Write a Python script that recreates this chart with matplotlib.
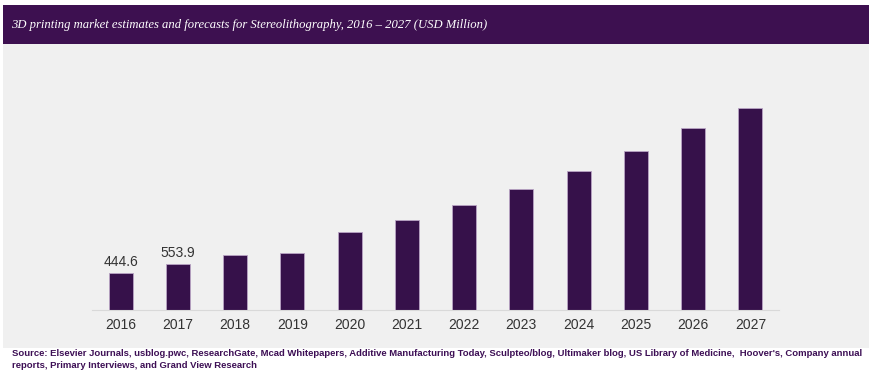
import matplotlib.pyplot as plt
from matplotlib.patches import Rectangle

years = ['2016', '2017', '2018', '2019', '2020', '2021',
         '2022', '2023', '2024', '2025', '2026', '2027']
revenue = [444.6, 553.9, 665, 690, 944, 1089, 1270, 1464, 1682, 1924, 2202, 2444]
shown_labels = {0: '444.6', 1: '553.9'}

title = '3D printing market estimates and forecasts for Stereolithography, 2016 \u2013 2027 (USD Million)'
source = ("Source: Elsevier Journals, usblog.pwc, ResearchGate, Mcad Whitepapers, Additive Manufacturing Today, "
          "Sculpteo/blog, Ultimaker blog, US Library of Medicine,  Hoover's, Company annual\n"
          "reports, Primary Interviews, and Grand View Research")

W, H = 878, 375
fig = plt.figure(figsize=(W / 100, H / 100), dpi=100)
fig.patch.set_facecolor('white')

# grey panel and title band (figure pixel coords -> fractions)
def box(x0, y0, x1, y1, color):
    fig.add_artist(Rectangle((x0 / W, 1 - y1 / H), (x1 - x0) / W, (y1 - y0) / H,
                             transform=fig.transFigure, facecolor=color,
                             edgecolor='none', zorder=0))

box(3, 5, 869, 348, '#f0f0f0')
box(3, 5, 869, 44, '#3d1050')

fig.text(11 / W, 1 - 25 / H, title, color='white', fontsize=9.1,
         family='Liberation Serif', style='italic', va='center', ha='left')

# axes area: x 92..779, baseline y=310, top y=60
ax = fig.add_axes([92 / W, 1 - 310 / H, (779 - 92) / W, (310 - 60) / H])
ax.set_facecolor('none')
x = range(len(years))
bars = ax.bar(x, revenue, width=0.42, color='#36114a', edgecolor='#b9a3c4', linewidth=0.6)
for i, txt in shown_labels.items():
    ax.text(i, revenue[i] + 50, txt, ha='center', va='bottom',
            fontsize=10, color='#333333', family='Liberation Sans')

ax.set_xlim(-0.5, len(years) - 0.5)
ax.set_ylim(0, 3025)
ax.set_xticks(list(x))
ax.set_xticklabels(years, fontsize=10, color='#333333', family='Liberation Sans')
ax.tick_params(axis='x', length=0, pad=6)
ax.set_yticks([])
for s in ['top', 'right', 'left']:
    ax.spines[s].set_visible(False)
ax.spines['bottom'].set_color('#d9d9d9')
ax.spines['bottom'].set_linewidth(0.8)

fig.text(12 / W, 1 - 349 / H, source, color='#3d0f55', fontsize=6.8,
         family='Liberation Sans', weight='bold',
         va='top', ha='left', linespacing=1.45)

fig.savefig('out.png', dpi=100)
